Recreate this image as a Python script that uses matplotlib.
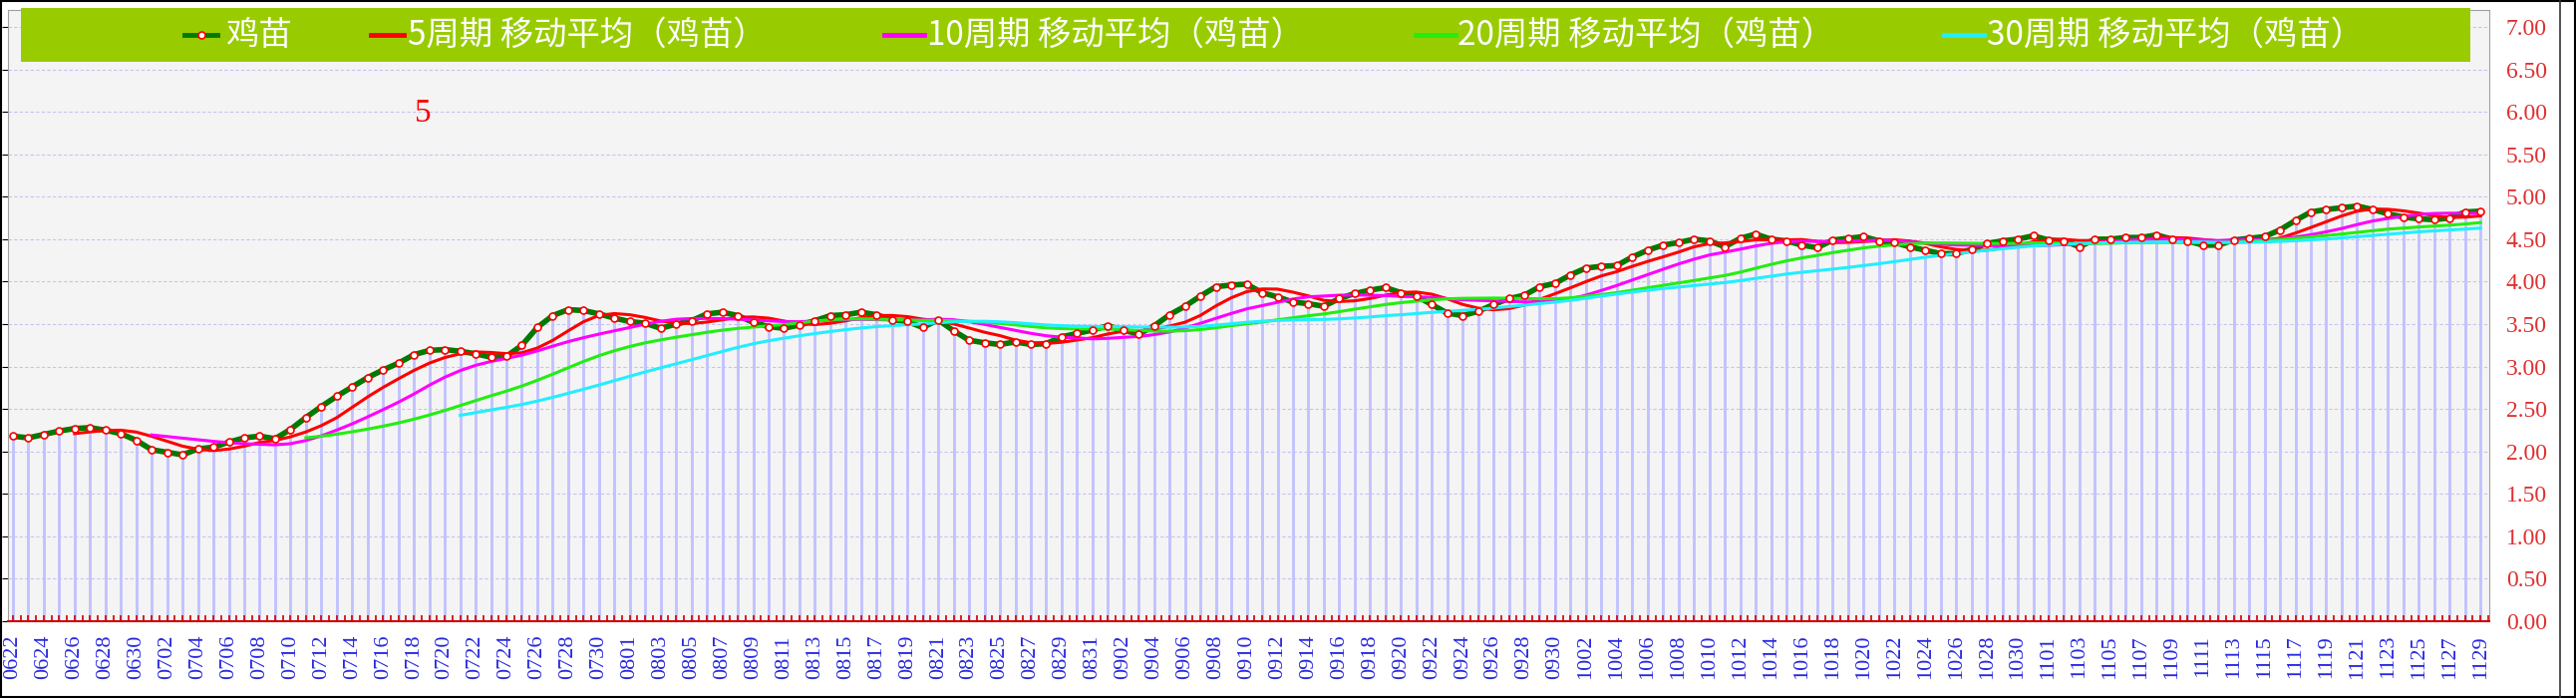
import numpy as np
import pandas as pd
import matplotlib
matplotlib.use('Agg')
import matplotlib.pyplot as plt
from matplotlib.lines import Line2D
from matplotlib.patches import Rectangle
from matplotlib.ticker import FixedLocator, MultipleLocator

# 日期 0622 ~ 1129（逐日）
dates = pd.date_range('2023-06-22', '2023-11-29', freq='D')
day_labels = [d.strftime('%m%d') for d in dates]

# 鸡苗价格
price = [
    2.18, 2.16, 2.20, 2.24, 2.27, 2.28, 2.25, 2.21, 2.13, 2.02,
    1.99, 1.96, 2.03, 2.05, 2.11, 2.16, 2.18, 2.15, 2.26, 2.40,
    2.53, 2.65, 2.76, 2.87, 2.96, 3.04, 3.14, 3.19, 3.20, 3.18,
    3.15, 3.11, 3.12, 3.25, 3.46, 3.60, 3.67, 3.66, 3.62, 3.57,
    3.53, 3.51, 3.45, 3.50, 3.54, 3.62, 3.64, 3.60, 3.52, 3.47,
    3.45, 3.49, 3.54, 3.60, 3.61, 3.64, 3.61, 3.55, 3.53, 3.46,
    3.55, 3.42, 3.31, 3.28, 3.26, 3.29, 3.26, 3.27, 3.35, 3.39,
    3.43, 3.48, 3.43, 3.38, 3.48, 3.61, 3.71, 3.83, 3.94, 3.96,
    3.97, 3.87, 3.82, 3.76, 3.74, 3.71, 3.80, 3.86, 3.90, 3.93,
    3.87, 3.83, 3.73, 3.63, 3.60, 3.65, 3.73, 3.80, 3.84, 3.94,
    3.98, 4.08, 4.16, 4.18, 4.19, 4.29, 4.37, 4.43, 4.46, 4.50,
    4.48, 4.41, 4.51, 4.56, 4.50, 4.48, 4.43, 4.40, 4.49, 4.51,
    4.53, 4.48, 4.46, 4.41, 4.37, 4.33, 4.33, 4.38, 4.45, 4.48,
    4.50, 4.54, 4.49, 4.48, 4.41, 4.50, 4.50, 4.52, 4.52, 4.55,
    4.50, 4.48, 4.43, 4.43, 4.49, 4.51, 4.53, 4.61, 4.72, 4.82,
    4.85, 4.87, 4.89, 4.85, 4.80, 4.76, 4.74, 4.73, 4.75, 4.82,
    4.83,
]

ma_periods = [5, 10, 20, 30]
ma_colors = ['#FF0000', '#FF00FF', '#22EE11', '#22EEFF']
y_ticks = np.arange(0, 7.01, 0.5)

W, H = 2584, 700
fig = plt.figure(figsize=(W / 100, H / 100), dpi=100)
fig.patch.set_facecolor('white')

def fx(px):
    return px / W

def fy(py):
    return 1 - py / H

ax = fig.add_axes([fx(8), 77 / H, 2489 / W, 613 / H])
ax.set_facecolor('#F5F4F4')

x = np.arange(len(price))
s = pd.Series(price)

# 竖线（柱）
ax.vlines(x, 0, price, color='#C2C2FF', lw=2.1, zorder=1)

# 主线
ax.plot(x, price, color='#007A00', lw=4.0, zorder=3, solid_capstyle='round')
# 移动平均
for p, c in zip(ma_periods, ma_colors):
    ax.plot(x, s.rolling(p).mean(), color=c, lw=2.2, zorder=4)
# 数据点
ax.plot(x, price, ls='none', marker='o', ms=5, mfc='white', mec='#FF0000',
        mew=1.2, zorder=6)

ax.set_xlim(-0.32, 160.57)
ax.set_ylim(0, 7.2)

# 网格
for v in y_ticks[1:]:
    ax.axhline(v, color='#C4C4F0', lw=0.8, ls=(0, (3, 2)), zorder=0.5)

ax.set_yticks(y_ticks)
ax.set_yticklabels([f'{v:.2f}' for v in y_ticks])
ax.tick_params(axis='y', left=True, right=False, labelleft=False, labelright=True,
               direction='out', length=4, color='black', labelcolor='#E03030',
               labelsize=17, pad=8)
for t in ax.get_yticklabels():
    t.set_family('Liberation Serif')

ax.xaxis.set_major_locator(FixedLocator(x))
ax.set_xticklabels([lab if i % 2 == 0 else '' for i, lab in enumerate(day_labels)],
                   rotation=90, family='Liberation Serif', fontsize=16, color='#2828E0')
ax.xaxis.set_minor_locator(MultipleLocator(0.5))
ax.tick_params(axis='x', which='both', direction='in', length=4, color='#CC0000',
               width=1.2, pad=10)

for side in ['top', 'right', 'left']:
    ax.spines[side].set_color('#A0A0A0')
ax.spines['bottom'].set_color('#CC0000')
ax.spines['bottom'].set_linewidth(1.5)

ax.text(26.6, 5.98, '5', color='#FF0000', fontsize=24, family='Liberation Serif',
        ha='center', va='center', zorder=7)

# 顶部图例条
fig.add_artist(Rectangle((fx(21), fy(62)), fx(2478 - 21), 54 / H,
                         transform=fig.transFigure, facecolor='#99CC00',
                         edgecolor='none', zorder=5))

legend_names = ['鸡苗'] + [f'{p}周期 移动平均（鸡苗）' for p in ma_periods]
legend_line_x = [(185, 218), (372, 405), (887, 927), (1420, 1460), (1950, 1990)]
legend_text_x = [226, 409, 930, 1462, 1993]
legend_colors = ['#007A00'] + ma_colors
ly = fy(35)
for name, (x0, x1), tx, c in zip(legend_names, legend_line_x, legend_text_x, legend_colors):
    fig.add_artist(Line2D([fx(x0), fx(x1)], [ly, ly], transform=fig.transFigure,
                          color=c, lw=3.5, zorder=6))
    if name == '鸡苗':
        fig.add_artist(Line2D([fx((x0 + x1) / 2)], [ly], transform=fig.transFigure,
                              marker='o', ms=5, mfc='white', mec='#FF0000', mew=1.2,
                              zorder=7))
    fig.text(fx(tx), ly, name, color='white', fontsize=24,
             family=['Noto Sans CJK SC', 'DejaVu Sans'], va='center', ha='left',
             zorder=7)

# 外框
fig.add_artist(Rectangle((0.0005, 0.001), 0.999, 0.998, transform=fig.transFigure,
                         fill=False, edgecolor='black', lw=1.5, zorder=10))
fig.add_artist(Line2D([fx(2568), fx(2568)], [0, 1], transform=fig.transFigure,
                      color='#333333', lw=1.2, zorder=10))

fig.savefig('out.png', dpi=100)
